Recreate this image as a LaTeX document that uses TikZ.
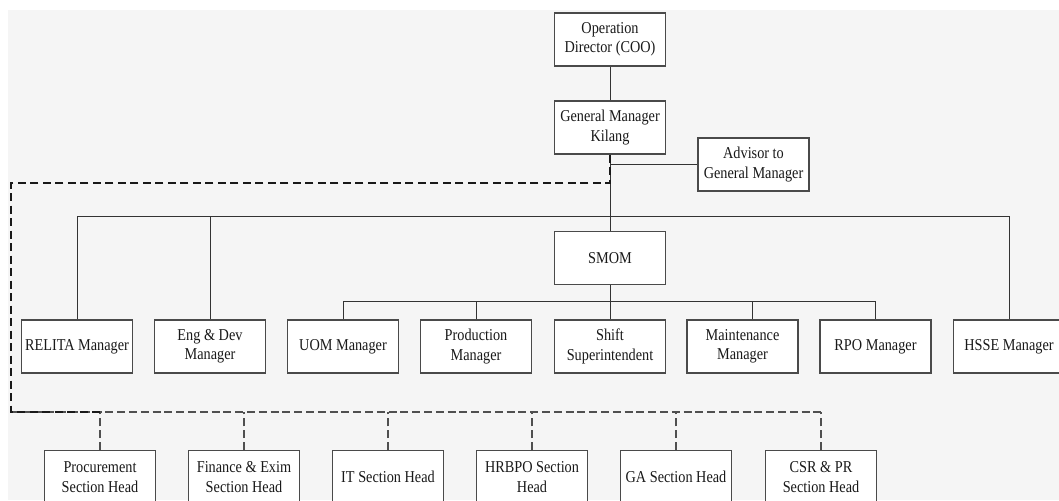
\documentclass[tikz,border=0pt]{standalone}
\usepackage{fontspec}
\setmainfont{Liberation Serif}[FakeStretch=0.86]
\usepackage{tikz}
\usetikzlibrary{shapes,arrows}
\definecolor{bggray}{HTML}{F5F5F5}
\definecolor{boxgray}{HTML}{4A4A4A}
\definecolor{linegray}{HTML}{333333}
\definecolor{dashgray}{HTML}{505050}
\tikzstyle{box} = [draw=boxgray, line width=0.65pt, fill=white, align=center,
  minimum width=55.5pt, minimum height=26.5pt, inner sep=1pt,
  font=\fontsize{8.3}{9.75}\selectfont, text=black!90]
\tikzstyle{link} = [draw=linegray, line width=0.5pt]
\tikzstyle{boldlink} = [draw=black!90, line width=1.4pt, dash pattern=on 4pt off 2.25pt]
\tikzstyle{greylink} = [draw=dashgray, line width=0.8pt, dash pattern=on 4pt off 1.9pt]

\begin{document}
\begin{tikzpicture}[x=0.5pt, y=-0.5pt]

	% frame
	\useasboundingbox (0,0) rectangle (1059,500);
	\clip (0,0) rectangle (1059,500);
	\fill[white] (0,0) rectangle (1059,500);
	\fill[bggray] (8,10) rectangle (1059,500);

	% nodes
	\node[box] (coo) at (610, 39.5) {Operation\\Director (COO)};
	\node[box] (gm) at (610, 127.5) {General Manager\\Kilang};
	\node[box] (adv) at (753.5, 164.5) {Advisor to\\General Manager};
	\node[box] (smom) at (610, 258) {SMOM};

	\node[box] (relita) at (77, 346.5) {RELITA Manager};
	\node[box] (engdev) at (210, 346.5) {Eng \& Dev\\Manager};
	\node[box] (uom) at (343, 346.5) {UOM Manager};
	\node[box] (prod) at (476, 346.5) {Production\\Manager};
	\node[box] (shift) at (610, 346.5) {Shift\\Superintendent};
	\node[box] (maint) at (742.5, 346.5) {Maintenance\\Manager};
	\node[box] (rpo) at (875.5, 346.5) {RPO Manager};
	\node[box] (hsse) at (1009, 346.5) {HSSE Manager};

	\node[box] (proc) at (100, 477) {Procurement\\Section Head};
	\node[box] (fin) at (244, 477) {Finance \& Exim\\Section Head};
	\node[box] (it) at (388, 477) {IT Section Head};
	\node[box] (hrbpo) at (532, 477) {HRBPO Section\\Head};
	\node[box] (ga) at (676, 477) {GA Section Head};
	\node[box] (csr) at (821, 477) {CSR \& PR\\Section Head};

	% bus points
	\coordinate (topbus) at (610, 216);
	\coordinate (smombus) at (610, 301);
	\coordinate (dashtop) at (11, 183);
	\coordinate (dashbot) at (11, 412);

	% solid lines
	\draw [link] (coo) -- (gm);
	\draw [link] (gm.south |- adv.west) -- (adv.west);
	\draw [link] (gm.south) -- (smom.north);
	\draw [link] (relita.north) -- (relita.north |- topbus) -- (hsse.north |- topbus) -- (hsse.north);
	\draw [link] (engdev.north) -- (engdev.north |- topbus);
	\draw [link] (uom.north) -- (uom.north |- smombus) -- (rpo.north |- smombus) -- (rpo.north);
	\draw [link] (prod.north) -- (prod.north |- smombus);
	\draw [link] ([xshift=4.75pt]maint.north) -- ([xshift=4.75pt]maint.north |- smombus);
	\draw [link] (smom.south) -- (shift.north);

	% dashed lines
	\draw [greylink] (dashbot) -- (csr.north |- dashbot);
	\foreach \n in {proc, fin, it, hrbpo, ga, csr}
		\draw [greylink] (\n.north) -- (\n.north |- dashbot);
	\draw [boldlink] (gm.south) -- (gm.south |- dashtop) -- (dashtop) -- (dashbot) -- (proc.north |- dashbot);

\end{tikzpicture}
\end{document}
